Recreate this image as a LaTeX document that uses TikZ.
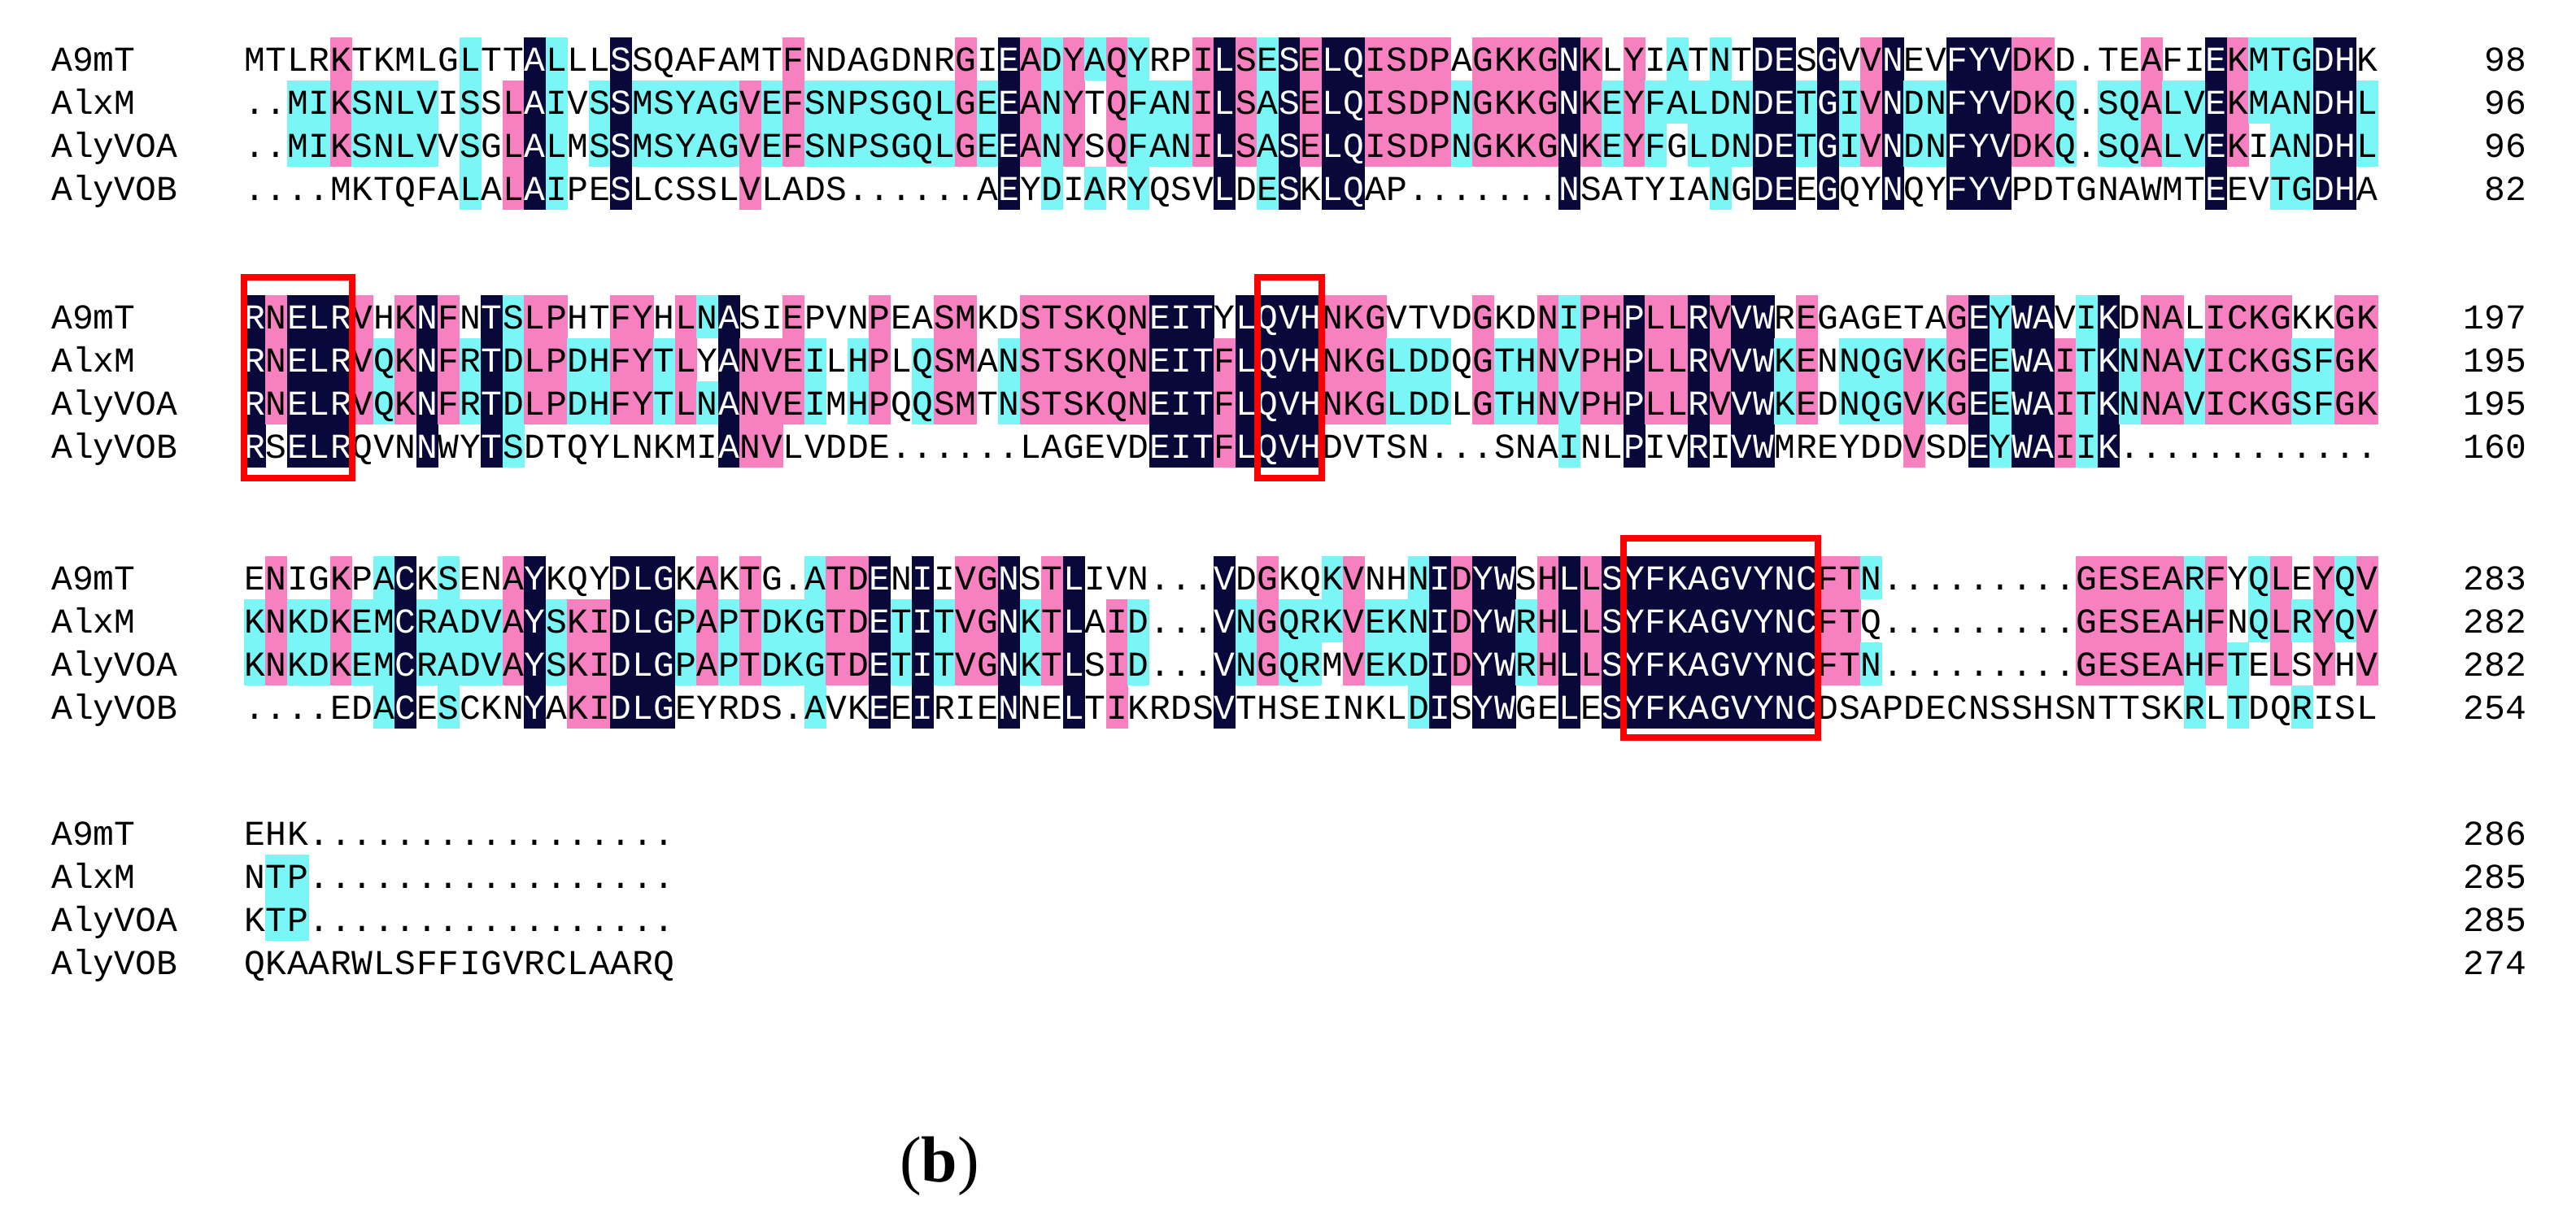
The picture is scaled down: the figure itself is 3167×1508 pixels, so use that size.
\documentclass[tikz,border=0pt]{standalone}
\usepackage{fontspec}
\setmainfont{Liberation Serif}
\setmonofont{Liberation Mono}
\definecolor{idnavy}{RGB}{8,8,58}
\definecolor{idpink}{RGB}{246,128,192}
\definecolor{idcyan}{RGB}{122,246,246}
\newcommand\cellw{26.5}
\newcommand\cellh{53}
\newcommand\seqx{300}
\tikzset{
  res/.style={inner sep=0pt, anchor=base, font=\fontsize{43}{43}\ttfamily},
  lbl/.style={inner sep=0pt, anchor=base west, font=\fontsize{43}{43}\ttfamily},
  cnt/.style={inner sep=0pt, anchor=base east, font=\fontsize{43}{43}\ttfamily},
  motif/.style={draw=red, line width=8pt}
}
% one residue: x, y, identity level (0..4), letter, name
\newcommand\AlnCell[5]{%
  \def\AlnTxt{black}%
  \ifcase#3\or\or
    \fill[idcyan] (#1-\cellw/2-0.3,#2-\cellh/2) rectangle (#1+\cellw/2+0.3,#2+\cellh/2);\or
    \fill[idpink] (#1-\cellw/2-0.3,#2-\cellh/2) rectangle (#1+\cellw/2+0.3,#2+\cellh/2);\or
    \fill[idnavy] (#1-\cellw/2-0.3,#2-\cellh/2) rectangle (#1+\cellw/2+0.3,#2+\cellh/2);
    \def\AlnTxt{white}\fi
  \node[res, text=\AlnTxt] (#5) at (#1,#2+15) {#4};}
\ExplSyntaxOn
\int_new:N \g_aln_blk_int
\fp_new:N \g_aln_top_fp
\str_new:N \l_aln_a_str
\str_new:N \l_aln_b_str
\str_new:N \l_aln_c_str
\str_new:N \l_aln_d_str
\cs_new:Npn \aln_count:nnnnn #1#2#3#4#5
 {
  \str_if_eq:nnTF {#1} {.} {0}
   {
    \int_eval:n { \str_if_eq:nnTF {#1}{#2}{1}{0} + \str_if_eq:nnTF {#1}{#3}{1}{0}
                + \str_if_eq:nnTF {#1}{#4}{1}{0} + \str_if_eq:nnTF {#1}{#5}{1}{0} }
   }
 }
\cs_new_protected:Npn \aln_put:nnnnnnn #1#2#3#4#5#6#7
 {
  \use:x
   {
    \exp_not:N \AlnCell
     { \fp_eval:n { \seqx + (#1 - 0.5) * \cellw } }
     { \fp_eval:n { \g_aln_top_fp + (#2 - 1) * \cellh } }
     { \aln_count:nnnnn {#3}{#4}{#5}{#6}{#7} }
     { \exp_not:n {#3} }
     { b \int_use:N \g_aln_blk_int r #2 c #1 }
   }
 }
\cs_new_protected:Npn \aln_col:nnnnn #1#2#3#4#5
 {
  \aln_put:nnnnnnn {#1}{1}{#2}{#2}{#3}{#4}{#5}
  \aln_put:nnnnnnn {#1}{2}{#3}{#2}{#3}{#4}{#5}
  \aln_put:nnnnnnn {#1}{3}{#4}{#2}{#3}{#4}{#5}
  \aln_put:nnnnnnn {#1}{4}{#5}{#2}{#3}{#4}{#5}
 }
\NewDocumentCommand \AlnBlock { m m m m m m }
 {
  \int_gset:Nn \g_aln_blk_int {#1}
  \fp_gset:Nn \g_aln_top_fp {#2}
  \str_set:Nn \l_aln_a_str {#3}
  \str_set:Nn \l_aln_b_str {#4}
  \str_set:Nn \l_aln_c_str {#5}
  \str_set:Nn \l_aln_d_str {#6}
  \int_step_inline:nn { \str_count:N \l_aln_a_str }
   {
    \use:x
     {
      \exp_not:N \aln_col:nnnnn {##1}
       { \str_item:Nn \l_aln_a_str {##1} }
       { \str_item:Nn \l_aln_b_str {##1} }
       { \str_item:Nn \l_aln_c_str {##1} }
       { \str_item:Nn \l_aln_d_str {##1} }
     }
   }
 }
\ExplSyntaxOff

\begin{document}
\begin{tikzpicture}[x=1pt,y=-1pt]
  \useasboundingbox (0,0) rectangle (3167,1508);
  \AlnBlock{1}{72}
    {MTLRKTKMLGLTTALLLSSQAFAMTFNDAGDNRGIEADYAQYRPILSESELQISDPAGKKGNKLYIATNTDESGVVNEVFYVDKD.TEAFIEKMTGDHK}
    {..MIKSNLVISSLAIVSSMSYAGVEFSNPSGQLGEEANYTQFANILSASELQISDPNGKKGNKEYFALDNDETGIVNDNFYVDKQ.SQALVEKMANDHL}
    {..MIKSNLVVSGLALMSSMSYAGVEFSNPSGQLGEEANYSQFANILSASELQISDPNGKKGNKEYFGLDNDETGIVNDNFYVDKQ.SQALVEKIANDHL}
    {....MKTQFALALAIPESLCSSLVLADS......AEYDIARYQSVLDESKLQAP.......NSATYIANGDEEGQYNQYFYVPDTGNAWMTEEVTGDHA}
  \AlnBlock{2}{389}
    {RNELRVHKNFNTSLPHTFYHLNASIEPVNPEASMKDSTSKQNEITYLQVHNKGVTVDGKDNIPHPLLRVVWREGAGETAGEYWAVIKDNALICKGKKGK}
    {RNELRVQKNFRTDLPDHFYTLYANVEILHPLQSMANSTSKQNEITFLQVHNKGLDDQGTHNVPHPLLRVVWKENNQGVKGEEWAITKNNAVICKGSFGK}
    {RNELRVQKNFRTDLPDHFYTLNANVEIMHPQQSMTNSTSKQNEITFLQVHNKGLDDLGTHNVPHPLLRVVWKEDNQGVKGEEWAITKNNAVICKGSFGK}
    {RSELRQVNNWYTSDTQYLNKMIANVLVDDE......LAGEVDEITFLQVHDVTSN...SNAINLPIVRIVWMREYDDVSDEYWAIIK............}
  \AlnBlock{3}{710}
    {ENIGKPACKSENAYKQYDLGKAKTG.ATDENIIVGNSTLIVN...VDGKQKVNHNIDYWSHLLSYFKAGVYNCFTN.........GESEARFYQLEYQV}
    {KNKDKEMCRADVAYSKIDLGPAPTDKGTDETITVGNKTLAID...VNGQRKVEKNIDYWRHLLSYFKAGVYNCFTQ.........GESEAHFNQLRYQV}
    {KNKDKEMCRADVAYSKIDLGPAPTDKGTDETITVGNKTLSID...VNGQRMVEKDIDYWRHLLSYFKAGVYNCFTN.........GESEAHFTELSYHV}
    {....EDACESCKNYAKIDLGEYRDS.AVKEEIRIENNELTIKRDSVTHSEINKLDISYWGELESYFKAGVYNCDSAPDECNSSHSNTTSKRLTDQRISL}
  \AlnBlock{4}{1024}
    {EHK.................}
    {NTP.................}
    {KTP.................}
    {QKAARWLSFFIGVRCLAARQ}
  % names and residue counts
  \foreach \blk/\top/\na/\nb/\nc/\nd in {1/72/98/96/96/82, 2/389/197/195/195/160,
      3/710/283/282/282/254, 4/1024/286/285/285/274}{
    \foreach \nm/\num [count=\r] in {A9mT/\na, AlxM/\nb, AlyVOA/\nc, AlyVOB/\nd}{
      \node[lbl] (name\blk\r) at (63,\top+53*\r-53+15) {\nm};
      \node[cnt] (num\blk\r) at (3106,\top+53*\r-53+15) {\num};
    }
  }
  % boxed motifs
  \draw[motif] (\seqx,341) rectangle (\seqx+5*\cellw,588);
  \draw[motif] (\seqx+47*\cellw,341) rectangle (\seqx+50*\cellw,588);
  \draw[motif] (\seqx+64*\cellw,662) rectangle (\seqx+73*\cellw,907);
  \node[font=\fontsize{80}{80}\selectfont] (panel) at (1155,1434) {(\textbf{b})};
\end{tikzpicture}
\end{document}
